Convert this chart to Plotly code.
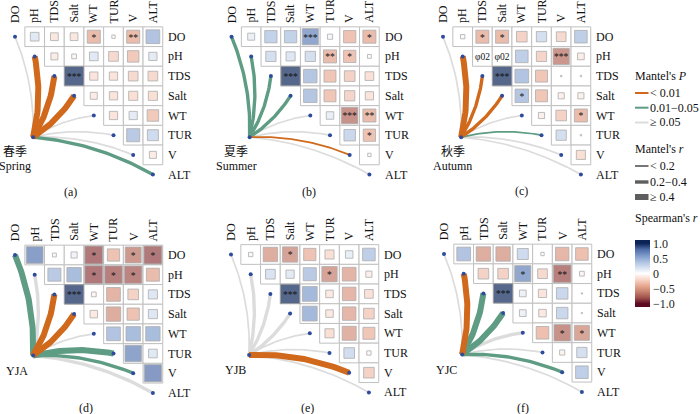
import numpy as np
import plotly.graph_objects as go

W, H = 700, 414
SERIF = "Liberation Serif, Noto Sans CJK SC, serif"

VARS = ["DO", "pH", "TDS", "Salt", "WT", "TUR", "V", "ALT"]

# ---------------- Spearman's r (upper triangle, row i -> columns i+1..7) ----------------
spring_r = [[0.20, -0.16, -0.16, -0.45, -0.03, -0.45, 0.50],
            [-0.13, -0.06, 0.20, -0.25, -0.35, 0.18],
            [0.99, -0.18, -0.18, -0.25, -0.25],
            [-0.13, -0.18, -0.22, -0.22],
            [-0.18, 0.18, -0.35],
            [0.45, 0.32],
            [-0.13]]
spring_sig = [["", "", "", "*", "", "**", ""],
              ["", "", "", "", "", ""],
              ["***", "", "", "", ""],
              ["", "", "", ""],
              ["", "", ""],
              ["", ""],
              [""]]

summer_r = [[0.13, 0.40, 0.40, 0.70, 0.07, -0.40, -0.45],
            [0.28, 0.22, 0.28, -0.45, -0.40, -0.04],
            [0.99, 0.48, -0.38, -0.30, -0.20],
            [0.48, -0.38, -0.28, -0.18],
            [0.15, -0.72, -0.45],
            [0.35, -0.40],
            [-0.03]]
summer_sig = [["", "", "", "***", "", "", "*"],
              ["", "", "", "**", "*", ""],
              ["***", "", "", "", ""],
              ["", "", "", ""],
              ["", "***", "**"],
              ["", "*"],
              [""]]

autumn_r = [[-0.05, -0.45, -0.45, -0.30, 0.28, -0.25, 0.42],
            [None, None, 0.42, -0.28, -0.70, -0.12],
            [0.99, 0.50, -0.38, 0.005, 0.005],
            [0.48, -0.38, -0.10, -0.10],
            [-0.10, -0.30, -0.45],
            [0.28, 0.005],
            [-0.22]]
autumn_sig = [["", "*", "*", "", "", "", ""],
              ["φ02", "φ02", "", "", "***", ""],
              ["***", "", "", "", ""],
              ["*", "", "", ""],
              ["", "", "*"],
              ["", ""],
              [""]]

yja_r = [[0.75, 0.04, 0.10, -0.85, -0.40, -0.68, -0.85],
         [0.45, 0.55, -0.85, -0.82, -0.80, -0.45],
         [0.99, -0.06, -0.50, -0.30, 0.22],
         [-0.15, -0.55, -0.40, 0.22],
         [0.50, 0.55, 0.55],
         [0.72, 0.20],
         [0.78]]
yja_sig = [["", "", "", "*", "", "*", "*"],
           ["", "", "*", "*", "*", ""],
           ["***", "", "", "", ""],
           ["", "", "", ""],
           ["", "", ""],
           ["", ""],
           [""]]

yjb_r = [[-0.05, -0.55, -0.62, -0.40, -0.22, 0.15, 0.42],
         [0.25, 0.18, 0.45, -0.62, -0.50, -0.10],
         [0.99, 0.58, -0.15, -0.48, -0.20],
         [0.58, -0.15, -0.48, -0.30],
         [-0.22, -0.52, -0.38],
         [0.30, -0.05],
         [-0.30]]
yjb_sig = [["", "", "*", "", "", "", ""],
           ["", "", "", "*", "", ""],
           ["***", "", "", "", ""],
           ["", "", "", ""],
           ["", "", ""],
           ["", ""],
           [""]]

yjc_r = [[0.50, -0.55, -0.55, 0.32, 0.03, -0.48, -0.42],
         [-0.30, -0.30, 0.70, -0.25, -0.82, -0.06],
         [0.99, 0.12, -0.18, 0.35, 0.004],
         [0.12, -0.15, 0.35, 0.004],
         [-0.42, -0.72, -0.60],
         [-0.07, 0.28],
         [0.42]]
yjc_sig = [["", "", "", "", "", "", ""],
           ["", "", "*", "", "**", ""],
           ["***", "", "", "", ""],
           ["", "", "", ""],
           ["", "*", "*"],
           ["", ""],
           [""]]

# ---------------- Mantel test categories (per variable DO..ALT) ----------------
# p: "a" < 0.01, "b" 0.01-0.05, "c" >= 0.05 ; r: 1 < 0.2, 2 0.2-0.4, 3 >= 0.4
spring_p = ["c", "a", "a", "a", "c", "c", "c", "b"]
spring_mr = [1, 3, 3, 3, 1, 1, 1, 2]
summer_p = ["b", "b", "b", "b", "c", "c", "a", "c"]
summer_mr = [2, 2, 2, 2, 1, 1, 1, 1]
autumn_p = ["c", "a", "a", "a", "c", "b", "c", "c"]
autumn_mr = [1, 3, 2, 2, 1, 1, 1, 1]
yja_p = ["b", "c", "a", "a", "c", "b", "b", "c"]
yja_mr = [3, 2, 3, 3, 1, 3, 2, 2]
yjb_p = ["c", "c", "c", "c", "c", "c", "a", "c"]
yjb_mr = [1, 2, 2, 2, 1, 1, 3, 1]
yjc_p = ["c", "a", "b", "b", "c", "c", "b", "c"]
yjc_mr = [1, 3, 3, 3, 2, 1, 2, 1]

group_names = [["春季", "Spring"], ["夏季", "Summer"], ["秋季", "Autumn"],
               ["YJA"], ["YJB"], ["YJC"]]
panel_tags = ["(a)", "(b)", "(c)", "(d)", "(e)", "(f)"]

panels = [
    (spring_r, spring_sig, spring_p, spring_mr),
    (summer_r, summer_sig, summer_p, summer_mr),
    (autumn_r, autumn_sig, autumn_p, autumn_mr),
    (yja_r, yja_sig, yja_p, yja_mr),
    (yjb_r, yjb_sig, yjb_p, yjb_mr),
    (yjc_r, yjc_sig, yjc_p, yjc_mr),
]

# ---------------- styling / layout ----------------
ORIG = [(15, 36.7), (231.5, 36.7), (443, 36.7), (15, 255), (231, 254.5), (444, 254)]
S = 19.7
XR = (-0.75, 9.0)
YR = (-1.8, 8.0)
SRC = (0.92, 5.1)
LABEL_X = [0.0, 0.25, 0.5, 0.09, 0.23, 0.15]
TAG_POS = [(70.5, 192), (309, 192), (521, 191), (85.5, 408), (307.7, 408), (522.5, 407.5)]

P_COL = {"a": "#D0691C", "b": "#5E9C84", "c": "#DCDCDC"}
R_W = {1: 1.7, 2: 3.4, 3: 6.0}
DOT = "#2D4C9C"

CB_LIM = 1.11
cs_r = [-1.0, -0.8, -0.6, -0.4, -0.2, 0.0, 0.2, 0.4, 0.6, 0.8, 1.0]
cs_c = ["#5C0A22", "#A0524C", "#C8826F", "#E9AA93", "#F8D6C8", "#FFFFFF",
        "#D5E0F0", "#A9BFE1", "#7B98C9", "#4E6CA7", "#0B2356"]
colorscale = [[0.0, cs_c[0]]] + [[(v + CB_LIM) / (2 * CB_LIM), c] for v, c in zip(cs_r, cs_c)] + [[1.0, cs_c[-1]]]


def pp(x, y):
    return x / W, 1 - y / H


def curve(x0, y0, x1, y1, upper, k=0.11, n=40):
    dx, dy = x1 - x0, y1 - y0
    if upper:
        nx, ny = -dy, dx
    else:
        nx, ny = dy, -dx
    cx = (x0 + x1) / 2 + k * nx
    cy = (y0 + y1) / 2 + k * ny
    t = np.linspace(0, 1, n)
    xs = (1 - t) ** 2 * x0 + 2 * t * (1 - t) * cx + t ** 2 * x1
    ys = (1 - t) ** 2 * y0 + 2 * t * (1 - t) * cy + t ** 2 * y1
    return xs, ys


fig = go.Figure()
shapes = []
annotations = []
layout_axes = {}

for k, (rmat, sig, mp, mr) in enumerate(panels, start=1):
    ox, oy = ORIG[k - 1]
    xa, ya = f"x{k}" if k > 1 else "x", f"y{k}" if k > 1 else "y"
    xkey, ykey = (f"xaxis{k}" if k > 1 else "xaxis"), (f"yaxis{k}" if k > 1 else "yaxis")
    layout_axes[xkey] = dict(domain=[(ox + S * XR[0]) / W, (ox + S * XR[1]) / W],
                             range=list(XR), visible=False, anchor=ya, fixedrange=True)
    layout_axes[ykey] = dict(domain=[1 - (oy + S * YR[1]) / H, 1 - (oy + S * YR[0]) / H],
                             range=[YR[1], YR[0]], visible=False, anchor=xa, fixedrange=True)

    # grid cells
    for i in range(7):
        for j in range(i + 1, 8):
            shapes.append(dict(type="rect", xref=xa, yref=ya, x0=j - 0.5, x1=j + 0.5,
                               y0=i - 0.5, y1=i + 0.5, line=dict(color="#C0C0C0", width=1),
                               fillcolor="white", layer="below"))

    # mantel links (grey first)
    order = sorted(range(8), key=lambda i: {"c": 0, "b": 1, "a": 2}[mp[i]])
    for i in order:
        xs, ys = curve(SRC[0], SRC[1], i, i, upper=(i < 4))
        fig.add_trace(go.Scatter(x=xs, y=ys, mode="lines", xaxis=xa, yaxis=ya,
                                 line=dict(color=P_COL[mp[i]], width=R_W[mr[i]]),
                                 hoverinfo="skip", showlegend=False))
    fig.add_trace(go.Scatter(x=list(range(8)) + [SRC[0]], y=list(range(8)) + [SRC[1]],
                             mode="markers", xaxis=xa, yaxis=ya,
                             marker=dict(color=DOT, size=4), hoverinfo="skip", showlegend=False))

    # squares
    sx, sy, sv, ss = [], [], [], []
    tx, ty, tt = [], [], []
    for i in range(7):
        for jj, v in enumerate(rmat[i]):
            j = i + 1 + jj
            if v is not None:
                sx.append(j); sy.append(i); sv.append(v)
                ss.append(19.4 * np.sqrt(abs(v)))
            if sig[i][jj]:
                tx.append(j); ty.append(i + 0.08); tt.append(sig[i][jj])
    mk = dict(symbol="square", size=ss, color=sv, colorscale=colorscale,
              cmin=-CB_LIM, cmax=CB_LIM, line=dict(color="#8C8C8C", width=0.8))
    if k == 1:
        mk.update(showscale=True, colorbar=dict(
            x=635 / W, xanchor="left", xpad=0, y=1 - 240 / H, yanchor="top", ypad=0,
            len=66.7, lenmode="pixels", thickness=15, thicknessmode="pixels",
            outlinewidth=0, tickvals=[1, 0.5, 0, -0.5, -1],
            ticktext=["1.0", "0.5", "0", "−0.5", "−1.0"], ticks="", ticklen=0,
            tickfont=dict(family=SERIF, size=12, color="#222")))
    fig.add_trace(go.Scatter(x=sx, y=sy, mode="markers", xaxis=xa, yaxis=ya, marker=mk,
                             hoverinfo="skip", showlegend=False))
    fig.add_trace(go.Scatter(x=tx, y=ty, mode="text", text=tt, xaxis=xa, yaxis=ya,
                             textfont=dict(family=SERIF, size=9.5, color="#111"),
                             hoverinfo="skip", showlegend=False))

    # axis labels
    for c, v in enumerate(VARS):
        annotations.append(dict(text=v, x=c, y=-0.6, xref=xa, yref=ya, textangle=-90,
                                xanchor="center", yanchor="bottom", showarrow=False,
                                font=dict(family=SERIF, size=12, color="#111")))
        annotations.append(dict(text=v, x=7.68, y=c, xref=xa, yref=ya,
                                xanchor="left", yanchor="middle", showarrow=False,
                                font=dict(family=SERIF, size=12, color="#111")))
    names = group_names[k - 1]
    if len(names) == 2:
        rows = [5.85, 6.55]
    else:
        rows = [5.87]
    for nm, ry in zip(names, rows):
        annotations.append(dict(text=nm, x=LABEL_X[k - 1], y=ry, xref=xa, yref=ya,
                                xanchor="center", yanchor="middle", showarrow=False,
                                font=dict(family=SERIF, size=12, color="#111")))
    tx_, ty_ = pp(*TAG_POS[k - 1])
    annotations.append(dict(text=panel_tags[k - 1], x=tx_, y=ty_, xref="paper", yref="paper",
                            xanchor="center", yanchor="middle", showarrow=False,
                            font=dict(family=SERIF, size=12, color="#111")))

# ---------------- legend ----------------
def legend_text(txt, x, y, size=12):
    px_, py_ = pp(x, y)
    annotations.append(dict(text=txt, x=px_, y=py_, xref="paper", yref="paper",
                            xanchor="left", yanchor="middle", showarrow=False,
                            font=dict(family=SERIF, size=size, color="#111")))


def legend_line(y, color, width):
    x0, y0 = pp(635, y)
    x1, _ = pp(648.5, y)
    shapes.append(dict(type="line", xref="paper", yref="paper", x0=x0, x1=x1, y0=y0, y1=y0,
                       line=dict(color=color, width=width)))


legend_text("Mantel's <i>P</i>", 633, 76.5)
p_items = [("< 0.01", "a", 93), ("0.01−0.05", "b", 107.7), ("≥ 0.05", "c", 122.5)]
for txt, key, y in p_items:
    legend_line(y, P_COL[key], 2)
    legend_text(txt, 648, y)
legend_text("Mantel's <i>r</i>", 633, 148.5)
r_items = [("< 0.2", 1, 166), ("0.2−0.4", 2, 182), ("≥ 0.4", 3, 197)]
for txt, key, y in r_items:
    legend_line(y, "#5E5E5E", R_W[key])
    legend_text(txt, 648, y)
legend_text("Spearman's <i>r</i>", 633, 218)

fig.update_layout(width=W, height=H, margin=dict(l=0, r=0, t=0, b=0),
                  paper_bgcolor="white", plot_bgcolor="white", hovermode=False,
                  shapes=shapes, annotations=annotations, **layout_axes)

fig.write_html("out.html", config={"displayModeBar": False, "staticPlot": True},
               post_script="document.body.style.margin='0';document.body.style.overflow='hidden';")
